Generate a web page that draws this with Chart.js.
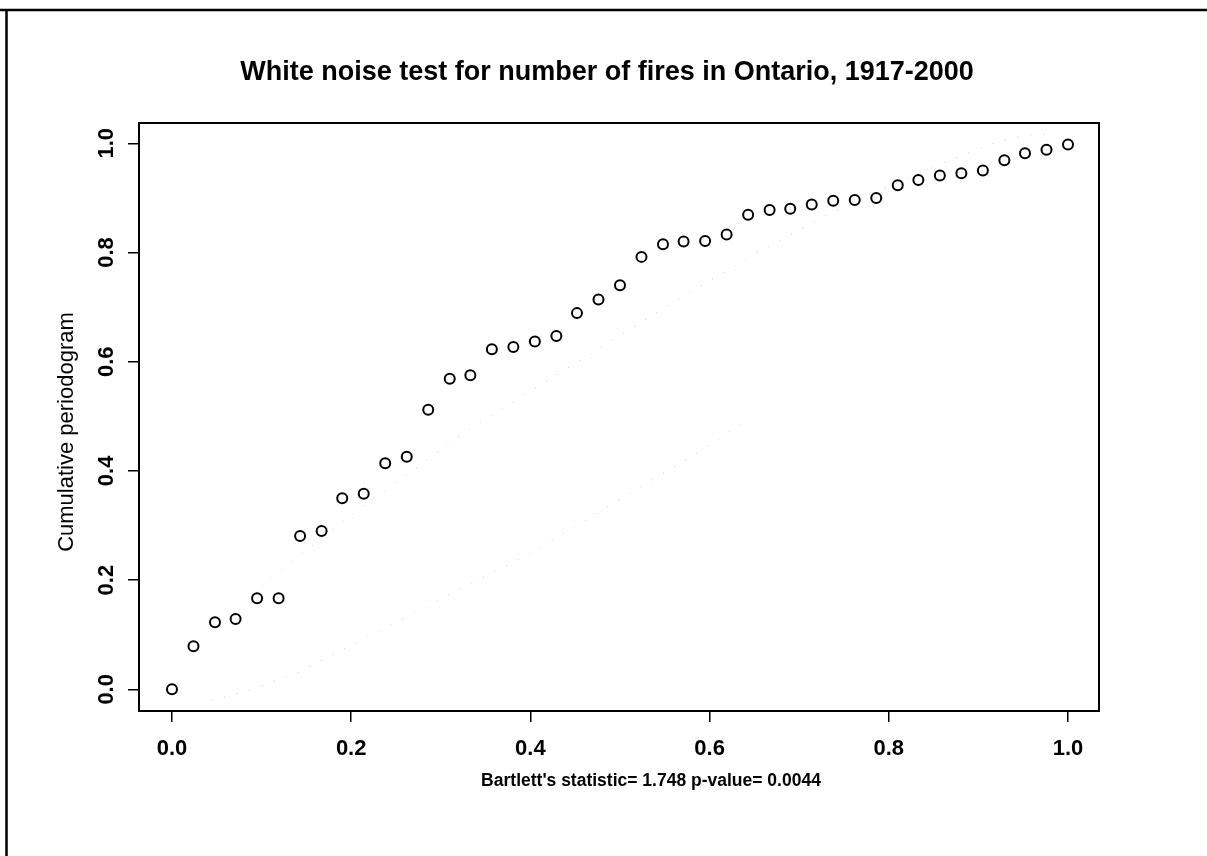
<!DOCTYPE html>
<html>
<head>
<meta charset="utf-8">
<script src="https://cdn.jsdelivr.net/npm/chart.js@4.4.1/dist/chart.umd.min.js"></script>
<style>
html,body{margin:0;padding:0;background:#fff;}
canvas{display:block;}
</style>
</head>
<body>
<canvas id="c" width="1207" height="856"></canvas>
<script>
// ---- text ----
const titleText = "White noise test for number of fires in Ontario, 1917-2000";
const yAxisTitle = "Cumulative periodogram";
const xAxisTitle = "Bartlett's statistic= 1.748 p-value= 0.0044";

// ---- tick labels ----
const xTickValues = [0.0, 0.2, 0.4, 0.6, 0.8, 1.0];
const yTickValues = [0.0, 0.2, 0.4, 0.6, 0.8, 1.0];

// ---- series: cumulative periodogram ----
const frequency = [0.000, 0.024, 0.048, 0.071, 0.095, 0.119, 0.143, 0.167, 0.190, 0.214,
                   0.238, 0.262, 0.286, 0.310, 0.333, 0.357, 0.381, 0.405, 0.429, 0.452,
                   0.476, 0.500, 0.524, 0.548, 0.571, 0.595, 0.619, 0.643, 0.667, 0.690,
                   0.714, 0.738, 0.762, 0.786, 0.810, 0.833, 0.857, 0.881, 0.905, 0.929,
                   0.952, 0.976, 1.000];
const cumPeriodogram = [0.000, 0.079, 0.123, 0.129, 0.167, 0.167, 0.281, 0.290, 0.350, 0.358,
                        0.414, 0.426, 0.512, 0.569, 0.575, 0.623, 0.627, 0.637, 0.647, 0.689,
                        0.714, 0.740, 0.792, 0.815, 0.820, 0.821, 0.833, 0.869, 0.878, 0.880,
                        0.888, 0.895, 0.896, 0.900, 0.923, 0.933, 0.941, 0.945, 0.950, 0.969,
                        0.982, 0.988, 0.998];

// ---- faint confidence bands (visible dots) ----
const upperBandX = [0.100, 0.123, 0.202, 0.300, 0.324, 0.541, 0.615, 0.651, 0.671, 0.725, 0.856, 0.871, 0.922, 0.944, 0.968, 0.982];
const upperBandY = [0.188, 0.220, 0.321, 0.438, 0.468, 0.690, 0.763, 0.798, 0.815, 0.864, 0.962, 0.971, 1.003, 1.012, 1.018, 1.014];
const lowerBandX = [0.044, 0.059, 0.090, 0.119, 0.141, 0.401, 0.568, 0.600, 0.631, 0.637];
const lowerBandY = [-0.020, -0.014, 0.000, 0.018, 0.031, 0.250, 0.415, 0.448, 0.482, 0.489];

const toPts = (xs, ys) => xs.map((v, i) => ({x: v, y: ys[i]}));

const FONT = '"Liberation Sans", Arial, Helvetica, sans-serif';

const decor = {
  id: 'decor',
  beforeDraw(chart) {
    const ctx = chart.ctx;
    ctx.save();
    ctx.fillStyle = '#fff';
    ctx.fillRect(0, 0, chart.width, chart.height);
    ctx.restore();
  },
  afterDraw(chart) {
    const {ctx, chartArea: a, scales: {y}} = chart;
    ctx.save();
    // plot box
    ctx.strokeStyle = '#000';
    ctx.lineWidth = 2;
    ctx.strokeRect(a.left, a.top, a.right - a.left, a.bottom - a.top);
    // rotated y tick labels
    ctx.fillStyle = '#000';
    ctx.font = 'bold 22px ' + FONT;
    ctx.textAlign = 'center';
    ctx.textBaseline = 'middle';
    yTickValues.forEach(v => {
      const py = y.getPixelForValue(v);
      ctx.save();
      ctx.translate(107, py);
      ctx.rotate(-Math.PI / 2);
      ctx.fillText(v.toFixed(1), 0, 0);
      ctx.restore();
    });
    // y axis title
    ctx.font = '22px ' + FONT;
    ctx.save();
    ctx.translate(67, 432);
    ctx.rotate(-Math.PI / 2);
    ctx.fillText(yAxisTitle, 0, 0);
    ctx.restore();
    // main title
    ctx.font = 'bold 27px ' + FONT;
    ctx.fillText(titleText, 607, 73);
    // x axis title
    ctx.font = 'bold 17.5px ' + FONT;
    ctx.fillText(xAxisTitle, 651, 781);
    // page frame (scan edges)
    ctx.lineWidth = 2.5;
    ctx.beginPath();
    ctx.moveTo(0, 10); ctx.lineTo(chart.width, 10);
    ctx.moveTo(6.5, 10); ctx.lineTo(6.5, chart.height);
    ctx.stroke();
    ctx.restore();
  }
};

new Chart(document.getElementById('c'), {
  type: 'scatter',
  data: {
    datasets: [
      {
        label: 'upper band',
        data: toPts(upperBandX, upperBandY),
        showLine: true,
        borderColor: 'rgba(150,150,150,0.45)',
        borderWidth: 1,
        borderDash: [1, 12],
        pointRadius: 0,
        fill: false
      },
      {
        label: 'lower band',
        data: toPts(lowerBandX, lowerBandY),
        showLine: true,
        borderColor: 'rgba(150,150,150,0.45)',
        borderWidth: 1,
        borderDash: [1, 12],
        pointRadius: 0,
        fill: false
      },
      {
        label: 'Cumulative periodogram',
        data: toPts(frequency, cumPeriodogram),
        showLine: false,
        pointStyle: 'circle',
        pointRadius: 5,
        pointBorderWidth: 2,
        pointBorderColor: '#000',
        pointBackgroundColor: 'rgba(0,0,0,0)'
      }
    ]
  },
  options: {
    responsive: false,
    animation: false,
    devicePixelRatio: 1,
    layout: {padding: {top: 123, right: 108, bottom: 0, left: 0}},
    plugins: {
      legend: {display: false},
      tooltip: {enabled: false},
      title: {display: false}
    },
    scales: {
      x: {
        type: 'linear',
        min: -0.0368,
        max: 1.0346,
        afterBuildTicks: s => { s.ticks = xTickValues.map(v => ({value: v})); },
        afterFit: s => { s.height = 145; },
        border: {display: false},
        grid: {drawOnChartArea: false, drawTicks: true, tickLength: 11, color: '#000', lineWidth: 1.5},
        ticks: {
          color: '#000',
          font: {family: FONT, size: 22, weight: 'bold'},
          padding: 14,
          maxRotation: 0,
          callback: v => Number(v).toFixed(1)
        }
      },
      y: {
        type: 'linear',
        min: -0.0397,
        max: 1.0372,
        afterBuildTicks: s => { s.ticks = yTickValues.map(v => ({value: v})); },
        afterFit: s => { s.width = 139; },
        border: {display: false},
        grid: {drawOnChartArea: false, drawTicks: true, tickLength: 11, color: '#000', lineWidth: 1.5},
        ticks: {display: false}
      }
    }
  },
  plugins: [decor]
});
</script>
</body>
</html>
